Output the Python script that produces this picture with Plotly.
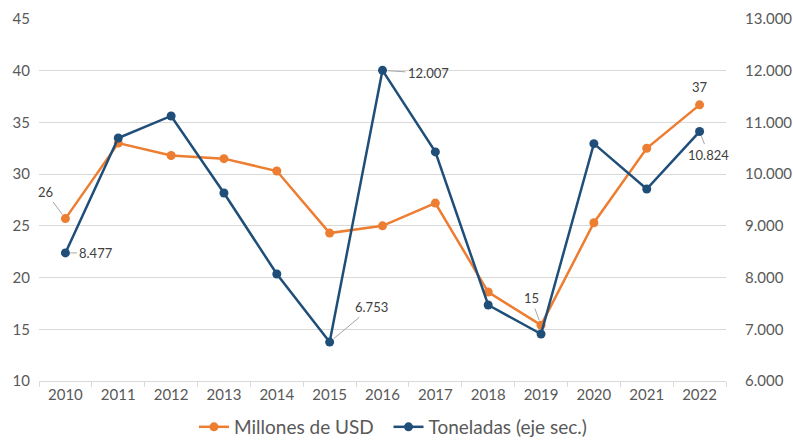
import plotly.graph_objects as go

years = ["2010", "2011", "2012", "2013", "2014", "2015", "2016",
         "2017", "2018", "2019", "2020", "2021", "2022"]
millones_usd = [25.7, 33.0, 31.8, 31.5, 30.3, 24.3, 25.0, 27.2, 18.6, 15.4, 25.3, 32.5, 36.7]
toneladas = [8477, 10699, 11125, 9636, 8069, 6753, 12007, 10430, 7470, 6909, 10590, 9713, 10824]

left_ticks = [10, 15, 20, 25, 30, 35, 40, 45]
right_ticks = [6000, 7000, 8000, 9000, 10000, 11000, 12000, 13000]

ORANGE = "#ED7D31"
BLUE = "#1F4E79"
GRAY = "#595959"
FONT = "Lato, Carlito, Calibri, sans-serif"

fig = go.Figure()
fig.add_trace(go.Scatter(
    x=years, y=millones_usd, name="Millones de USD\u00a0\u00a0", mode="lines+markers",
    line=dict(color=ORANGE, width=2.5), marker=dict(color=ORANGE, size=9),
    yaxis="y"))
fig.add_trace(go.Scatter(
    x=years, y=toneladas, name="Toneladas (eje sec.)", mode="lines+markers",
    line=dict(color=BLUE, width=2.5), marker=dict(color=BLUE, size=9),
    yaxis="y2"))

def fmt_t(v):
    return f"{v:,}".replace(",", ".")

# (series, index, ax, ay, show arrow)
labels = [
    ("usd", 0, -20, -27, True),
    ("t", 0, 31, 0, True),
    ("t", 5, 42, -35, True),
    ("t", 6, 46, 3, True),
    ("usd", 9, -10, -27, True),
    ("usd", 12, 0, -18, False),
    ("t", 12, 9, 23, True),
]
for series, i, ax, ay, arrow in labels:
    if series == "usd":
        val, yref, txt = millones_usd[i], "y", str(round(millones_usd[i]))
    else:
        val, yref, txt = toneladas[i], "y2", fmt_t(toneladas[i])
    fig.add_annotation(
        x=i, y=val, xref="x", yref=yref, text=txt,
        showarrow=True, arrowhead=0, arrowwidth=1,
        arrowcolor="#A6A6A6" if arrow else "rgba(0,0,0,0)",
        ax=ax, ay=ay, standoff=5, startstandoff=1,
        font=dict(family=FONT, size=13, color="#404040"))

fig.update_layout(
    width=793, height=442,
    margin=dict(l=39, r=67, t=19, b=61, autoexpand=False),
    paper_bgcolor="white", plot_bgcolor="white",
    separators=",.",
    font=dict(family=FONT, color=GRAY, size=15),
    showlegend=True,
    legend=dict(orientation="h", x=0.2256, xanchor="left",
                yref="container", y=0.034, yanchor="middle",
                font=dict(family=FONT, size=19, color=GRAY),
                tracegroupgap=0, itemwidth=30),
    xaxis=dict(type="category", categoryorder="array", categoryarray=years,
               range=[-0.5, len(years) - 0.5], autorange=False,
               showgrid=False, showline=True, linecolor="#D9D9D9",
               linewidth=1, ticks="outside", tickson="boundaries", ticklen=5,
               tickcolor="#D9D9D9", tickangle=0, tickfont=dict(size=15, color=GRAY)),
    yaxis=dict(range=[10, 45], tickvals=left_ticks, showgrid=True,
               gridcolor="#D9D9D9", gridwidth=1, zeroline=False,
               tickfont=dict(size=15, color=GRAY), ticklabelstandoff=8),
    yaxis2=dict(range=[6000, 13000], tickvals=right_ticks, overlaying="y",
                side="right", showgrid=False, zeroline=False, tickformat=",d",
                tickfont=dict(size=15, color=GRAY), ticklabelstandoff=18),
)

fig.write_html("out.html", config={"displayModeBar": False},
               post_script="document.body.style.margin='0';")
